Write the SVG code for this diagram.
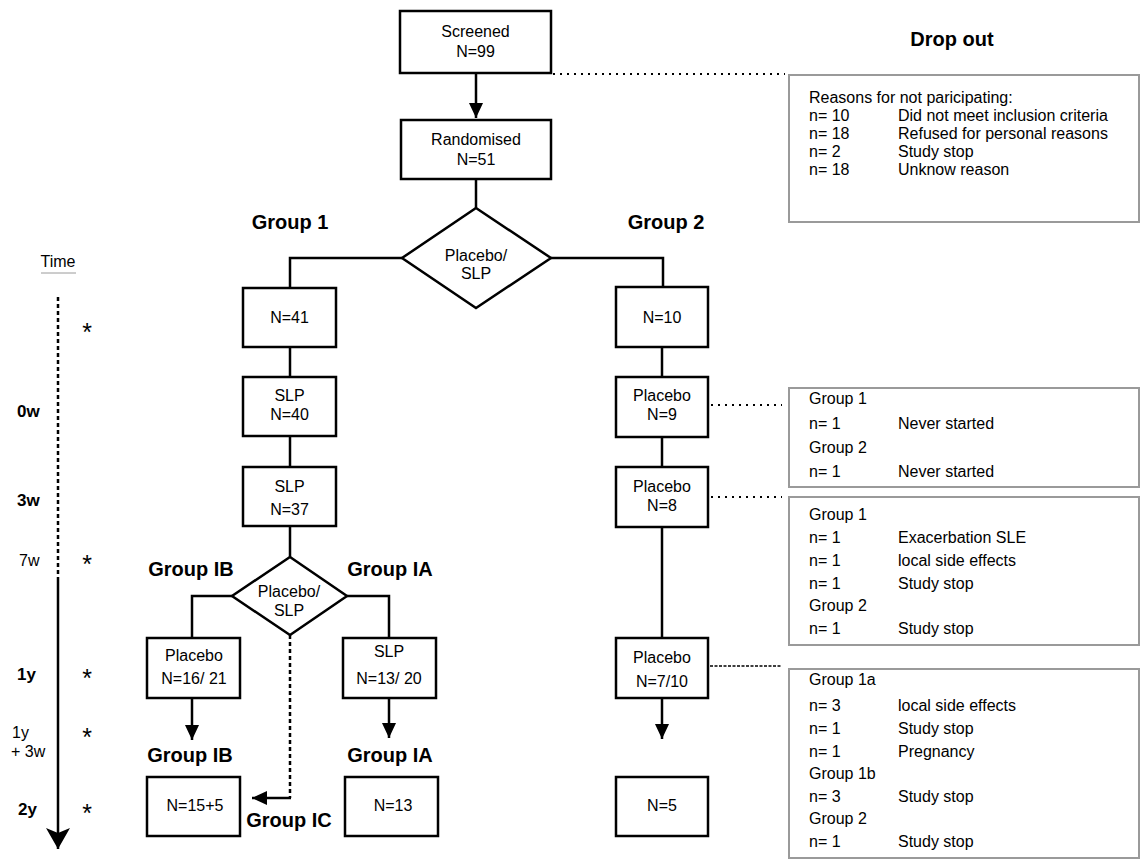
<svg xmlns="http://www.w3.org/2000/svg" width="1140" height="860" viewBox="0 0 1140 860">
<style>
text{font-family:"Liberation Sans",Arial,sans-serif;fill:#000}
.t{font-size:16px;text-anchor:middle}
.h{font-size:20px;font-weight:bold;text-anchor:middle}
.tl{font-size:17px;font-weight:bold}
.tn{font-size:16px}
.ast{font-size:25px;text-anchor:middle}
.r{font-size:16px}
.box{fill:#fff;stroke:#000;stroke-width:2.5}
.gbox{fill:#fff;stroke:#9a9a9a;stroke-width:2}
.ln{fill:none;stroke:#000;stroke-width:2.5}
.dash{fill:none;stroke:#000;stroke-width:2.5;stroke-dasharray:4 3}
.dot{fill:none;stroke:#000;stroke-width:2;stroke-dasharray:2 5}
.fine{fill:none;stroke:#000;stroke-width:1.5;stroke-dasharray:3 1.5}
</style>
<defs>
<marker id="arr" markerUnits="userSpaceOnUse" markerWidth="15" markerHeight="14" refX="15" refY="7" orient="auto">
<path d="M0,0 L15,7 L0,14 z" fill="#000"/>
</marker>
<marker id="arrBig" markerUnits="userSpaceOnUse" markerWidth="22" markerHeight="24" refX="21" refY="12" orient="auto">
<path d="M0,0 L21,12 L0,24 L5,12 z" fill="#000"/>
</marker>
</defs>

<g id="time-axis">
<text class="tn" x="58" y="267" text-anchor="middle">Time</text>
<line x1="41" y1="273" x2="76" y2="273" stroke="#9a9a9a" stroke-width="1"/>
<line class="dash" x1="58" y1="297" x2="58" y2="575"/>
<line class="ln" x1="58" y1="577" x2="58" y2="849" marker-end="url(#arrBig)"/>
<text class="tl" x="17" y="417">0w</text>
<text class="tl" x="17" y="506">3w</text>
<text class="tn" x="19" y="566">7w</text>
<text class="tl" x="17" y="680">1y</text>
<text class="tn" x="12" y="738">1y</text>
<text class="tn" x="11" y="757">+ 3w</text>
<text class="tl" x="18" y="815">2y</text>
<text class="ast" x="87" y="341">*</text>
<text class="ast" x="87" y="573">*</text>
<text class="ast" x="87" y="687">*</text>
<text class="ast" x="87" y="746">*</text>
<text class="ast" x="87" y="822">*</text>
</g>

<g id="labels">
<text class="h" x="290" y="229">Group 1</text>
<text class="h" x="666" y="229">Group 2</text>
<text class="h" x="952" y="46">Drop out</text>
<text class="h" x="191" y="576">Group IB</text>
<text class="h" x="390" y="576">Group IA</text>
<text class="h" x="190" y="762">Group IB</text>
<text class="h" x="390" y="762">Group IA</text>
<text class="h" x="289" y="827">Group IC</text>
</g>

<g id="connectors">
<line class="ln" x1="476" y1="73" x2="476" y2="118" marker-end="url(#arr)"/>
<line class="ln" x1="476" y1="179" x2="476" y2="208"/>
<polyline class="ln" points="402,258 290,258 290,288"/>
<polyline class="ln" points="551,258 663,258 663,287"/>
<line class="ln" x1="290" y1="347" x2="290" y2="377"/>
<line class="ln" x1="290" y1="436" x2="290" y2="467"/>
<line class="ln" x1="290" y1="526" x2="290" y2="557"/>
<polyline class="ln" points="232,596 192,596 192,638"/>
<polyline class="ln" points="347,596 389,596 389,638"/>
<line class="ln" x1="192" y1="698" x2="192" y2="740" marker-end="url(#arr)"/>
<line class="ln" x1="389" y1="698" x2="389" y2="738" marker-end="url(#arr)"/>
<line class="dash" x1="290" y1="635" x2="290" y2="798"/>
<line class="ln" x1="291" y1="798" x2="252" y2="798" marker-end="url(#arr)"/>
<line class="ln" x1="662" y1="347" x2="662" y2="377"/>
<line class="ln" x1="662" y1="437" x2="662" y2="467"/>
<line class="ln" x1="662" y1="527" x2="662" y2="638"/>
<line class="ln" x1="662" y1="698" x2="662" y2="739" marker-end="url(#arr)"/>
<line class="dot" x1="553" y1="74" x2="785" y2="74"/>
<line class="dot" x1="711" y1="405" x2="782" y2="405"/>
<line class="dot" x1="711" y1="497" x2="782" y2="497"/>
<line class="fine" x1="710" y1="666" x2="782" y2="666"/>
</g>

<g id="screened">
<rect class="box" x="400" y="11" width="151" height="62"/>
<text class="t" x="475.5" y="37">Screened</text>
<text class="t" x="475.5" y="57">N=99</text>
</g>
<g id="randomised">
<rect class="box" x="401" y="120" width="150" height="59"/>
<text class="t" x="476" y="145">Randomised</text>
<text class="t" x="476" y="165">N=51</text>
</g>
<g id="split1">
<polygon class="box" points="476,208 551,258 476,308 402,258"/>
<text class="t" x="476" y="261">Placebo/</text>
<text class="t" x="476" y="279">SLP</text>
</g>
<g id="n41">
<rect class="box" x="243" y="288" width="93" height="59"/>
<text class="t" x="289.5" y="323">N=41</text>
</g>
<g id="slp40">
<rect class="box" x="243" y="377" width="93" height="59"/>
<text class="t" x="289.5" y="401">SLP</text>
<text class="t" x="289.5" y="420">N=40</text>
</g>
<g id="slp37">
<rect class="box" x="243" y="467" width="93" height="59"/>
<text class="t" x="289.5" y="492">SLP</text>
<text class="t" x="289.5" y="515">N=37</text>
</g>
<g id="split2">
<polygon class="box" points="290,557 347,596 290,635 232,596"/>
<text class="t" x="289" y="597">Placebo/</text>
<text class="t" x="289" y="616">SLP</text>
</g>
<g id="placebo16">
<rect class="box" x="147" y="638" width="93" height="60"/>
<text class="t" x="194" y="661">Placebo</text>
<text class="t" x="194" y="684">N=16/ 21</text>
</g>
<g id="slp13">
<rect class="box" x="343" y="638" width="93" height="60"/>
<text class="t" x="389" y="657">SLP</text>
<text class="t" x="389" y="684">N=13/ 20</text>
</g>
<g id="n15">
<rect class="box" x="147" y="777" width="93" height="59"/>
<text class="t" x="195" y="811">N=15+5</text>
</g>
<g id="n13">
<rect class="box" x="345" y="777" width="93" height="59"/>
<text class="t" x="393" y="811">N=13</text>
</g>
<g id="n10">
<rect class="box" x="616" y="287" width="92" height="60"/>
<text class="t" x="662" y="323">N=10</text>
</g>
<g id="placebo9">
<rect class="box" x="616" y="377" width="92" height="60"/>
<text class="t" x="662" y="401">Placebo</text>
<text class="t" x="662" y="420">N=9</text>
</g>
<g id="placebo8">
<rect class="box" x="616" y="467" width="92" height="60"/>
<text class="t" x="662" y="492">Placebo</text>
<text class="t" x="662" y="511">N=8</text>
</g>
<g id="placebo7">
<rect class="box" x="616" y="638" width="92" height="60"/>
<text class="t" x="662" y="663">Placebo</text>
<text class="t" x="662" y="687">N=7/10</text>
</g>
<g id="n5">
<rect class="box" x="616" y="777" width="92" height="59"/>
<text class="t" x="662" y="811">N=5</text>
</g>

<g id="dropout-screening">
<rect class="gbox" x="789" y="75" width="350" height="147"/>
<text class="r" x="809" y="103">Reasons for not paricipating:</text>
<text class="r" x="809" y="121">n= 10</text><text class="r" x="898" y="121">Did not meet inclusion criteria</text>
<text class="r" x="809" y="139">n= 18</text><text class="r" x="898" y="139">Refused for personal reasons</text>
<text class="r" x="809" y="157">n= 2</text><text class="r" x="898" y="157">Study stop</text>
<text class="r" x="809" y="175">n= 18</text><text class="r" x="898" y="175">Unknow reason</text>
</g>
<g id="dropout-0w">
<rect class="gbox" x="789" y="388" width="350" height="99"/>
<text class="r" x="809" y="404">Group 1</text>
<text class="r" x="809" y="429">n= 1</text><text class="r" x="898" y="429">Never started</text>
<text class="r" x="809" y="453">Group 2</text>
<text class="r" x="809" y="477">n= 1</text><text class="r" x="898" y="477">Never started</text>
</g>
<g id="dropout-3w">
<rect class="gbox" x="789" y="497" width="350" height="148"/>
<text class="r" x="809" y="520">Group 1</text>
<text class="r" x="809" y="543">n= 1</text><text class="r" x="898" y="543">Exacerbation SLE</text>
<text class="r" x="809" y="566">n= 1</text><text class="r" x="898" y="566">local side effects</text>
<text class="r" x="809" y="589">n= 1</text><text class="r" x="898" y="589">Study stop</text>
<text class="r" x="809" y="611">Group 2</text>
<text class="r" x="809" y="634">n= 1</text><text class="r" x="898" y="634">Study stop</text>
</g>
<g id="dropout-1y">
<rect class="gbox" x="789" y="669" width="350" height="189"/>
<text class="r" x="809" y="685">Group 1a</text>
<text class="r" x="809" y="711">n= 3</text><text class="r" x="898" y="711">local side effects</text>
<text class="r" x="809" y="734">n= 1</text><text class="r" x="898" y="734">Study stop</text>
<text class="r" x="809" y="757">n= 1</text><text class="r" x="898" y="757">Pregnancy</text>
<text class="r" x="809" y="779">Group 1b</text>
<text class="r" x="809" y="802">n= 3</text><text class="r" x="898" y="802">Study stop</text>
<text class="r" x="809" y="824">Group 2</text>
<text class="r" x="809" y="847">n= 1</text><text class="r" x="898" y="847">Study stop</text>
</g>
</svg>
